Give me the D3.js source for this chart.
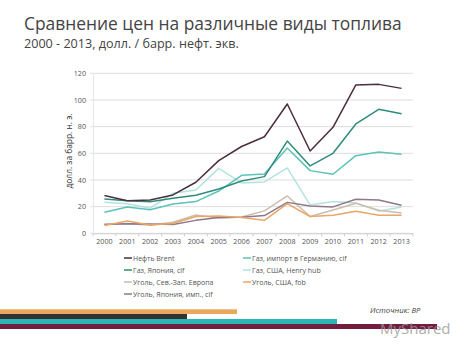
<!DOCTYPE html>
<html><head><meta charset="utf-8">
<script src="https://cdn.jsdelivr.net/npm/d3@7"></script>
<style>body{margin:0;background:#fff}svg{display:block}</style>
</head><body><svg id="c" width="474" height="355"></svg>
<script>
const years = ["2000","2001","2002","2003","2004","2005","2006","2007","2008","2009","2010","2011","2012","2013"];
const yTicks = [0,20,40,60,80,100,120];
const seriesNames = ["Нефть Brent","Газ, импорт в Германию, cif","Газ, Япония, cif","Газ, США, Henry hub","Уголь, Сев.-Зап. Европа","Уголь, США, fob","Уголь, Япония, имп., cif"];
const brent   = [28.3,24.4,25.0,28.8,38.3,54.5,65.1,72.4,97.0,61.7,79.5,111.3,111.7,108.7];
const gasGer  = [15.8,19.7,17.6,22.0,23.8,31.7,43.5,44.5,64.0,47.0,44.3,58.2,61.0,59.3];
const gasJap  = [25.8,24.5,23.7,26.2,28.5,33.2,39.2,42.5,69.2,50.5,60.0,82.0,93.0,89.7];
const gasUS   = [23.2,22.2,18.8,30.0,32.5,48.7,37.8,38.5,49.0,21.2,23.8,22.8,16.6,19.8];
const coalNWE = [6.8,7.4,6.0,8.3,13.7,11.5,12.2,16.8,28.0,12.6,17.5,22.6,17.3,15.3];
const coalUS  = [5.8,9.3,6.3,7.3,12.6,13.0,11.9,9.7,22.2,12.6,13.5,16.5,13.6,13.5];
const coalJap = [6.6,7.2,7.0,6.6,9.7,11.9,12.0,13.3,23.2,20.5,19.8,25.5,25.0,21.0];
const seriesValues = [brent,gasGer,gasJap,gasUS,coalNWE,coalUS,coalJap];
const colors = ["#4b2e40","#5cc3b8","#2f8c7c","#b3e3df","#cdbdae","#e8a66a","#8f7889"];

const svg = d3.select("#c");
const F = "'Open Sans', sans-serif";
svg.append("text").attr("x",24).attr("y",29.5).attr("font-family",F).attr("font-size",17.4).attr("fill","#444").text("Сравнение цен на различные виды топлива");
svg.append("text").attr("x",24).attr("y",48).attr("font-family",F).attr("font-size",12.6).attr("fill","#444").text("2000 - 2013, долл. / барр. нефт. экв.");

const x = d3.scaleBand().domain(years).range([93,413]);
const y = d3.scaleLinear().domain([0,120]).range([233.3,73.3]);

const g = svg.append("g");
g.selectAll("line.grid").data(yTicks).join("line")
  .attr("x1",90).attr("x2",413).attr("y1",d=>y(d)).attr("y2",d=>y(d))
  .attr("stroke","#dedede").attr("stroke-width",1);
g.append("line").attr("x1",93.5).attr("x2",93.5).attr("y1",y(120)).attr("y2",y(0)).attr("stroke","#e6e6e6");
const ya = svg.append("g").attr("transform","translate(93,0)")
  .call(d3.axisLeft(y).tickValues(yTicks).tickSize(0).tickPadding(7));
ya.select(".domain").remove();
ya.selectAll("text").attr("font-family",F).attr("font-size",7.2).attr("fill","#555");
const xa = svg.append("g").attr("transform","translate(0,233.3)")
  .call(d3.axisBottom(x).tickSize(0).tickPadding(6));
xa.select(".domain").attr("stroke","#d0d0d0");
xa.selectAll("text").attr("font-family",F).attr("font-size",7.2).attr("fill","#555");
const bounds = years.map(d=>x(d)).concat([x(years[years.length-1])+x.bandwidth()]);
svg.append("g").selectAll("line").data(bounds).join("line")
  .attr("x1",d=>d).attr("x2",d=>d).attr("y1",233.3).attr("y2",236.5).attr("stroke","#d0d0d0");
svg.append("text").attr("transform","translate(72,151) rotate(-90)").attr("text-anchor","middle")
  .attr("font-family",F).attr("font-size",8.4).attr("fill","#333").text("долл. за барр. н. э.");

const line = d3.line().x((d,i)=>x(years[i])+x.bandwidth()/2).y(d=>y(d));
const drawOrder = [3,4,6,5,1,2,0];
svg.append("g").selectAll("path").data(drawOrder).join("path")
  .attr("d",k=>line(seriesValues[k])).attr("fill","none")
  .attr("stroke",k=>colors[k]).attr("stroke-width",1.5).attr("stroke-linejoin","round");

const leg = svg.append("g");
seriesNames.forEach((n,i)=>{
  const col = i%2, row = Math.floor(i/2);
  const lx = col===0 ? 124 : 243, ly = 258 + row*12;
  leg.append("line").attr("x1",lx).attr("x2",lx+8).attr("y1",ly).attr("y2",ly).attr("stroke",colors[i]).attr("stroke-width",1.5);
  leg.append("text").attr("x",lx+9).attr("y",ly+2.5).attr("font-family",F).attr("font-size",7).attr("fill","#555").text(n);
});

svg.append("text").attr("x",370).attr("y",313).attr("font-family",F).attr("font-style","italic").attr("font-size",7.8).attr("fill","#444").text("Источник: BP");
const bars = [{w:237,y:309.3,h:4.7,c:"#e8a95f"},{w:187,y:314,h:5,c:"#333333"},{w:337,y:319,h:5,c:"#2bb5b5"},{w:437,y:324,h:5,c:"#721c3e"}];
svg.append("g").selectAll("rect").data(bars).join("rect")
  .attr("x",0).attr("y",d=>d.y).attr("width",d=>d.w).attr("height",d=>d.h).attr("fill",d=>d.c);
svg.append("text").attr("x",380).attr("y",334).attr("font-family",F).attr("font-size",15).attr("fill","#9a9a9a").attr("opacity",0.8).text("MyShared");
</script></body></html>
